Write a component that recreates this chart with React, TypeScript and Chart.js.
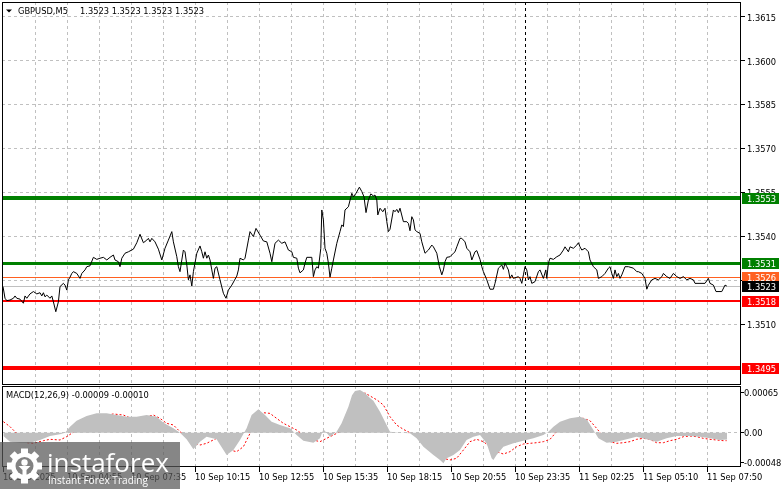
import React, { useEffect, useRef } from 'react';
import { Chart, registerables } from 'chart.js';
Chart.register(...registerables);

// ---------------- data ----------------
const symbolText = 'GBPUSD,M5';
const ohlcText = '1.3523 1.3523 1.3523 1.3523';
const macdTitle = 'MACD(12,26,9) -0.00009 -0.00010';

// x tick labels, one every 32 bars (M5 bars)
const xTickLabels = [
  '10 Sep 2025', '10 Sep 04:55', '10 Sep 07:35', '10 Sep 10:15', '10 Sep 12:55', '10 Sep 15:35',
  '10 Sep 18:15', '10 Sep 20:55', '10 Sep 23:35', '11 Sep 02:25', '11 Sep 05:10', '11 Sep 07:50',
];
const barsPerLabel = 32;
const barsPerGrid = 16;
const lastGridBar = 352;
const barRange = [-0.5, 369];
const daySeparatorBar = 261;

const priceTicks = [1.351, 1.3525, 1.354, 1.3555, 1.357, 1.3585, 1.36, 1.3615];
const priceRange = [1.348914, 1.362013];
const macdTicks = [-0.00048, 0, 0.00065];
const macdRange = [-0.000558, 0.000759];

// horizontal levels
const levelValues = [1.3553, 1.3531, 1.3526, 1.3518, 1.3495];
const currentPrice = 1.3523;

// close prices: [bar index, price]
const priceSeries: [number, number][] = [
  [0,1.35228],[1,1.35188],[1.9,1.3518],[3.5,1.35182],[5.2,1.35188],[6,1.35196],[6.9,1.35188],[8.5,1.35185],[10.2,1.35171],[11,1.35196],
  [11.9,1.35188],[13.5,1.35203],[15.2,1.35211],[16.9,1.35203],[18.5,1.35207],[19.4,1.35196],[20.2,1.35207],[21,1.35193],[21.9,1.35199],[23.5,1.35188],
  [24.4,1.35196],[25.2,1.35176],[26.4,1.35142],[27.7,1.35176],[28.5,1.35228],[30.2,1.35239],[31,1.35233],[31.9,1.35216],[32.7,1.35251],[33.5,1.3526],
  [34.4,1.35273],[35.2,1.35279],[36.9,1.35273],[38.5,1.35256],[39.4,1.35273],[41,1.35285],[41.9,1.35296],[43.5,1.35299],[45.2,1.35328],[46.9,1.35321],
  [48.5,1.35325],[50.2,1.35328],[51.9,1.35319],[53.5,1.35328],[55.2,1.35336],[56,1.35319],[57.7,1.35313],[58.5,1.35296],[59.4,1.35325],[61,1.35342],
  [62.7,1.35347],[65.2,1.35356],[66.9,1.35378],[68.5,1.35407],[70.2,1.35378],[71.9,1.35387],[72.7,1.35393],[73.5,1.35381],[74.4,1.35393],[76,1.35381],
  [77.7,1.35356],[79.4,1.35319],[81,1.35359],[82.7,1.35387],[84.4,1.35416],[85.2,1.35381],[86.9,1.3533],[87.7,1.35296],[88.5,1.35279],[89.4,1.35319],
  [90.2,1.35353],[91,1.35347],[91.9,1.35302],[92.7,1.35251],[93.5,1.35268],[94.4,1.3523],[95.2,1.35279],[96.9,1.35342],[98.5,1.35367],[99.4,1.35347],
  [100.2,1.35325],[101,1.35347],[101.9,1.35325],[102.7,1.35336],[103.5,1.35319],[104.4,1.35285],[105.2,1.35256],[106,1.35291],[106.9,1.35296],[108.5,1.35251],
  [110.2,1.35205],[111.5,1.35188],[112.7,1.35216],[114.4,1.35233],[116.9,1.35264],[117.7,1.35285],[118.5,1.35325],[120.2,1.35319],[121,1.35325],[122.7,1.35387],
  [123.5,1.35416],[125.2,1.35399],[126.5,1.35427],[128.5,1.35404],[130.2,1.35384],[131.9,1.35381],[133.5,1.35342],[134.4,1.35313],[136,1.35376],[137.7,1.35387],
  [139.4,1.35376],[141,1.35381],[142.7,1.35353],[144.4,1.35347],[145.2,1.35328],[146.9,1.35325],[147.7,1.35291],[148.5,1.35275],[150.2,1.35285],[151,1.35308],
  [151.9,1.35328],[154.4,1.35328],[155.2,1.35262],[156,1.35285],[156.9,1.35296],[157.7,1.35291],[158.9,1.35359],[159.4,1.3549],[160.2,1.35456],[161,1.35359],
  [161.9,1.35342],[162.7,1.35308],[163.5,1.3526],[164.4,1.35291],[165.2,1.35319],[166.9,1.35376],[168.5,1.35416],[169.4,1.35439],[170.2,1.35433],[171,1.3549],
  [172.7,1.35501],[174.4,1.35547],[175.2,1.35535],[176.5,1.35547],[178.2,1.35568],[179.4,1.35553],[180.5,1.35535],[181.5,1.35481],[182.7,1.35524],[183.9,1.35545],
  [185.2,1.35538],[186,1.35541],[186.9,1.35524],[187.4,1.35473],[188.5,1.35496],[189.9,1.35484],[191,1.35496],[191.9,1.3545],[192.7,1.35416],[193.5,1.35424],
  [195.2,1.3549],[196,1.35484],[196.9,1.35492],[197.7,1.35481],[198.5,1.35496],[200.2,1.3545],[201.9,1.3545],[202.7,1.35444],[203.5,1.35419],[204.4,1.35467],
  [205.2,1.35456],[206,1.35422],[206.9,1.35416],[208.5,1.3541],[209.4,1.35381],[211,1.35342],[212.7,1.35353],[214.4,1.3537],[215.2,1.35364],[216.9,1.35342],
  [218.2,1.35296],[219.4,1.35268],[220.2,1.35285],[221,1.35313],[221.9,1.35328],[223.5,1.3533],[225.2,1.35342],[226,1.35347],[226.9,1.35364],[228.5,1.35393],
  [229.4,1.35393],[231,1.35381],[231.9,1.35359],[233.5,1.35347],[234.4,1.35319],[236,1.35347],[236.9,1.35351],[238.5,1.35321],[239.4,1.35296],[240.2,1.35279],
  [241.9,1.35251],[243.5,1.35219],[245.2,1.35219],[246,1.35239],[247.7,1.35291],[249.4,1.35302],[250.2,1.35287],[251,1.35308],[251.9,1.35296],[252.7,1.35285],
  [253.5,1.35256],[254.4,1.35268],[255.2,1.35256],[257.7,1.35262],[258.5,1.35256],[259.4,1.35239],[260.2,1.35268],[261,1.35296],[261.9,1.35285],[262.7,1.35251],
  [263.5,1.35262],[264.4,1.35239],[266,1.35245],[267.7,1.35279],[268.5,1.35285],[270.2,1.35256],[271.4,1.35285],[271.9,1.35256],[272.7,1.35308],[273.5,1.35325],
  [275.2,1.35321],[276.9,1.3533],[278.5,1.35336],[280.2,1.35353],[281,1.35364],[282.7,1.35347],[283.5,1.35364],[285.2,1.35359],[286.9,1.3537],[287.7,1.35378],
  [288.5,1.35364],[289.4,1.35353],[291,1.35359],[292.7,1.35347],[293.5,1.35319],[295.2,1.35296],[296.9,1.35285],[297.7,1.35256],[299.4,1.35262],[301,1.35273],
  [302.7,1.35291],[303.5,1.35296],[304.4,1.35273],[305.2,1.35256],[306,1.35285],[306.9,1.35262],[307.7,1.35273],[308.5,1.35256],[309.4,1.35268],[311,1.35296],
  [312.7,1.35296],[315.2,1.35291],[316.9,1.35279],[317.7,1.35279],[319.4,1.35273],[321,1.35256],[321.9,1.35219],[322.7,1.35233],[324.4,1.35251],[326,1.35256],
  [327.7,1.35251],[329.4,1.35262],[330.2,1.35273],[331.9,1.35262],[333.5,1.35256],[335.2,1.35273],[336.9,1.35262],[338.5,1.35256],[340.2,1.35262],[341.9,1.35251],
  [343.5,1.35256],[345.2,1.35251],[346,1.35239],[348.5,1.35239],[351,1.35239],[352.7,1.35256],[353.5,1.35239],[355.2,1.35233],[356.5,1.35211],[358.5,1.35211],
  [359.4,1.35211],[361,1.35233],[361.9,1.3523],
];

// MACD main (histogram): [bar index, value]
const macdHist: [number, number][] = [
  [0.2,-0.000054],[3.5,-0.000146],[8.5,-0.000163],[13.5,-0.000163],[18.5,-0.000119],[23.5,-0.000054],[28.5,-0.000027],[31,0],[33.5,0.000098],[36.8,0.000195],
  [41.8,0.000271],[46.8,0.000314],[51.8,0.000314],[56.8,0.000287],[61.8,0.00026],[66.8,0.00026],[71.8,0.000287],[76.8,0.00026],[80.2,0.000163],[85.2,0.000071],
  [88.5,0],[91.8,-0.000108],[95.2,-0.000271],[98.5,-0.000146],[101.8,-0.000065],[106.8,-0.000108],[111.8,-0.000363],[115.2,-0.000282],[118.5,-0.000119],[121.8,0.000071],
  [124.3,0.000287],[127.7,0.000379],[131,0.000287],[134.3,0.000179],[138.5,0.000125],[143.5,0.000071],[146.8,-0.000038],[150.2,-0.00013],[155.2,-0.000163],[158.5,-0.000092],
  [160.2,0.000054],[163.5,-0.000065],[166.8,0.000016],[169.3,0.000152],[172.7,0.00042],[174.5,0.00061],[176,0.000678],[178.5,0.000694],[181,0.000646],[183.5,0.000564],
  [185.2,0.00052],[188.5,0.000341],[191.8,0.000125],[193.5,0.000016],[198.5,0],[203.5,-0.000011],[206.8,-0.000092],[210.2,-0.000228],[215.2,-0.000363],[218.5,-0.000444],
  [220.2,-0.000499],[221.8,-0.000417],[225.2,-0.000363],[228.5,-0.000282],[231.8,-0.000119],[235.2,-0.000065],[238.5,-0.000038],[241.8,-0.000173],[244.3,-0.000417],[245.2,-0.000444],
  [246.8,-0.000363],[250.2,-0.000228],[255.2,-0.000173],[260.2,-0.00013],[265.2,-0.000092],[270.2,-0.000038],[272.7,0.000016],[275.2,0.000098],[278.5,0.000179],[283.5,0.000233],
  [288.5,0.00026],[291.8,0.000217],[295.2,0.000043],[297.7,-0.000092],[301.8,-0.000163],[306.8,-0.000146],[311.8,-0.000108],[316.8,-0.000065],[321.8,-0.000108],[326.8,-0.000146],
  [331.8,-0.000092],[336.8,-0.000054],[343.5,-0.000054],[348.5,-0.000065],[353.5,-0.000092],[358.5,-0.00012],[362,-0.00011],
];

// MACD signal: [bar index, value]
const macdSignal: [number, number][] = [
  [0.2,0.000179],[3.5,0.000098],[8.5,-0.000065],[11.8,-0.000163],[15.2,-0.000173],[20.2,-0.00013],[23.5,-0.000108],[28.5,-0.000119],[31.8,-0.000065],[36.8,0.000043],
  [41.8,0.000179],[48.5,0.000271],[55.2,0.000304],[60.2,0.000287],[65.2,0.000217],[68.5,0.000206],[71.8,0.00026],[75.2,0.000287],[78.5,0.000233],[81.8,0.000152],
  [85.2,0.000125],[88.5,0.000016],[91.8,-0.000065],[95.2,-0.000163],[98.5,-0.000201],[101.8,-0.000173],[106.8,-0.000092],[110.2,-0.000146],[113.5,-0.000282],[116.8,-0.000309],
  [120.2,-0.000228],[123.5,-0.000011],[126.8,0.000206],[130.2,0.000325],[133.5,0.000314],[136.8,0.000233],[140.2,0.000152],[143.5,0.000098],[146.8,0.000043],[150.2,-0.000038],
  [155.2,-0.000119],[158.5,-0.000146],[161.8,-0.000092],[165.2,-0.000038],[168.5,0.000016],[171.8,0.000206],[175,0.000418],[177,0.000532],[178.5,0.000597],[181,0.000646],
  [183.5,0.000597],[187,0.000532],[190.2,0.00045],[193.5,0.00026],[196.8,0.000125],[200.2,0.000054],[203.5,0],[206.8,-0.000054],[210.2,-0.000146],[213.5,-0.000255],
  [216.8,-0.000363],[220.2,-0.000417],[223.5,-0.000444],[226.8,-0.000417],[230.2,-0.000282],[233.5,-0.000146],[236.8,-0.000108],[240.2,-0.000146],[243.5,-0.000228],[246.8,-0.000309],
  [250.2,-0.000347],[253.5,-0.000309],[256.8,-0.000228],[260.2,-0.000184],[263.5,-0.000173],[266.8,-0.000163],[270.2,-0.000146],[273.5,-0.000108],[276.8,0.000016],[280.2,0.000125],
  [283.5,0.000195],[286.8,0.000233],[290.2,0.000233],[293.5,0.000195],[296.8,0.000071],[300.2,-0.000065],[303.5,-0.000146],[306.8,-0.000173],[310.2,-0.000163],[313.5,-0.000146],
  [316.8,-0.000108],[320.2,-0.000092],[323.5,-0.000108],[326.8,-0.000163],[330.2,-0.000163],[333.5,-0.00013],[336.8,-0.000108],[340.2,-0.000065],[343.5,-0.000054],[346.8,-0.000065],
  [350.2,-0.000092],[353.5,-0.000108],[356.8,-0.000119],[360.2,-0.00013],[361.8,-0.00013],
];

// ---------------- styles ----------------
const FONT = '"DejaVu Sans", sans-serif';
const FSIZE = 8.3;
const GRID = '#c0c0c0';
const levelColors = ['#008000', '#008000', '#ff6020', '#ff0000', '#ff0000'];
const levelWidths = [4, 3, 1, 2, 4];
const currentColor = '#c0c0c0';

Chart.defaults.font.family = FONT;
Chart.defaults.font.size = FSIZE;
Chart.defaults.color = '#000';

const gridBars: number[] = [];
for (let b = barsPerGrid; b <= lastGridBar; b += barsPerGrid) gridBars.push(b);
const axisBars: number[] = [];
for (let b = 0; b <= lastGridBar; b += barsPerGrid) axisBars.push(b);

function noPad(s: any) {
  s.paddingTop = 0;
  s.paddingBottom = 0;
  s.paddingLeft = 0;
  s.paddingRight = 0;
}

function drawFrame(ctx: CanvasRenderingContext2D, a: any) {
  ctx.save();
  ctx.strokeStyle = '#000';
  ctx.lineWidth = 1;
  ctx.setLineDash([]);
  ctx.strokeRect(a.left + 0.5, a.top + 0.5, a.right - a.left - 1, a.bottom - a.top - 1);
  ctx.restore();
}

function drawSeparator(chart: any) {
  const { ctx, chartArea: a, scales } = chart;
  const sx = Math.round(scales.x.getPixelForValue(daySeparatorBar)) + 0.5;
  ctx.save();
  ctx.strokeStyle = '#000';
  ctx.lineWidth = 1;
  ctx.setLineDash([3, 3]);
  ctx.beginPath();
  ctx.moveTo(sx, a.top);
  ctx.lineTo(sx, a.bottom);
  ctx.stroke();
  ctx.restore();
}

function labelBox(ctx: CanvasRenderingContext2D, y: number, bg: string, text: string, x0: number) {
  ctx.fillStyle = bg;
  ctx.fillRect(x0, Math.round(y) - 5, 37, 11);
  ctx.fillStyle = '#fff';
  ctx.font = `${FSIZE}px ${FONT}`;
  ctx.textBaseline = 'middle';
  ctx.textAlign = 'left';
  ctx.fillText(text, x0 + 5, Math.round(y) + 1.5);
}

const mainPlugin = {
  id: 'mainDecor',
  beforeDatasetsDraw(chart: any) {
    const { ctx, chartArea: a, scales } = chart;
    drawSeparator(chart);
    ctx.save();
    const drawH = (v: number, color: string, w: number) => {
      const py = scales.y.getPixelForValue(v);
      const yy = w % 2 ? Math.round(py) + 0.5 : Math.round(py);
      ctx.strokeStyle = color;
      ctx.lineWidth = w;
      ctx.beginPath();
      ctx.moveTo(a.left, yy);
      ctx.lineTo(a.right, yy);
      ctx.stroke();
    };
    drawH(currentPrice, currentColor, 1);
    levelValues.forEach((v, k) => drawH(v, levelColors[k], levelWidths[k]));
    ctx.restore();
  },
  afterDraw(chart: any) {
    const { ctx, chartArea: a, scales } = chart;
    drawFrame(ctx, a);
    ctx.save();
    levelValues.forEach((v, k) => labelBox(ctx, scales.y.getPixelForValue(v), levelColors[k], v.toFixed(4), a.right + 1));
    labelBox(ctx, scales.y.getPixelForValue(currentPrice), '#000', currentPrice.toFixed(4), a.right + 1);
    // title
    ctx.fillStyle = '#000';
    ctx.beginPath();
    ctx.moveTo(6, 9.5);
    ctx.lineTo(12, 9.5);
    ctx.lineTo(9, 12.5);
    ctx.closePath();
    ctx.fill();
    ctx.font = `${FSIZE}px ${FONT}`;
    ctx.textBaseline = 'alphabetic';
    ctx.textAlign = 'left';
    ctx.fillText(symbolText, 18, 13.5);
    ctx.fillText(ohlcText, 80, 13.5);
    ctx.restore();
  },
};

const macdPlugin = {
  id: 'macdDecor',
  beforeDatasetsDraw(chart: any) {
    drawSeparator(chart);
  },
  afterDraw(chart: any) {
    const { ctx, chartArea: a, scales } = chart;
    drawFrame(ctx, a);
    ctx.save();
    // x tick marks at labelled positions
    ctx.strokeStyle = '#000';
    ctx.lineWidth = 1;
    xTickLabels.forEach((_, k) => {
      const px = Math.round(scales.x.getPixelForValue(k * barsPerLabel)) + 0.5;
      ctx.beginPath();
      ctx.moveTo(px, a.bottom);
      ctx.lineTo(px, a.bottom + 5);
      ctx.stroke();
    });
    ctx.fillStyle = '#000';
    ctx.font = `${FSIZE}px ${FONT}`;
    ctx.textBaseline = 'alphabetic';
    ctx.textAlign = 'left';
    ctx.fillText(macdTitle, 6, 11.5);

    // watermark
    const top = 56;
    ctx.fillStyle = 'rgba(88,88,88,0.72)';
    ctx.fillRect(0, top, 180, 47);
    ctx.fillStyle = '#fff';
    const cx = 24.5, cy = top + 24;
    ctx.save();
    ctx.translate(cx, cy);
    for (let k = 0; k < 8; k++) {
      ctx.save();
      ctx.rotate((k * Math.PI) / 4);
      ctx.fillRect(-3.5, -17.5, 7, 6);
      ctx.restore();
    }
    ctx.beginPath();
    ctx.arc(0, 0, 13.5, 0, Math.PI * 2);
    ctx.fill();
    ctx.fillStyle = 'rgb(130,130,130)';
    ctx.beginPath();
    ctx.arc(0, 0, 9, 0, Math.PI * 2);
    ctx.fill();
    ctx.fillStyle = '#fff';
    ctx.beginPath();
    ctx.arc(0, -3.5, 3.2, 0, Math.PI * 2);
    ctx.fill();
    ctx.beginPath();
    ctx.moveTo(-6, 0);
    ctx.lineTo(6, 0);
    ctx.lineTo(2, 4);
    ctx.lineTo(2, 13);
    ctx.lineTo(-2, 13);
    ctx.lineTo(-2, 4);
    ctx.closePath();
    ctx.fill();
    ctx.restore();
    ctx.fillStyle = '#fff';
    ctx.font = '26px "Open Sans", sans-serif';
    ctx.fillText('instaforex', 47, top + 29.5, 126);
    ctx.font = '10.5px "Open Sans", sans-serif';
    ctx.fillText('Instant Forex Trading', 48, top + 42, 100);
    ctx.restore();
  },
};

export default function App() {
  const mainRef = useRef<HTMLCanvasElement>(null);
  const macdRef = useRef<HTMLCanvasElement>(null);

  useEffect(() => {
    document.body.style.margin = '0';
    const xBase = {
      type: 'linear' as const,
      min: barRange[0],
      max: barRange[1],
      border: { display: false, dash: [3, 3] },
    };

    const main = new Chart(mainRef.current!, {
      type: 'line',
      data: {
        datasets: [
          {
            data: priceSeries.map(([x, y]) => ({ x, y })),
            borderColor: '#000',
            borderWidth: 1,
            pointRadius: 0,
            tension: 0,
            fill: false,
          },
        ],
      },
      options: {
        animation: false,
        responsive: false,
        devicePixelRatio: 1,
        events: [],
        layout: { padding: { left: 2, top: 2, right: 0, bottom: 1 } },
        plugins: { legend: { display: false }, tooltip: { enabled: false } },
        scales: {
          x: {
            ...xBase,
            afterBuildTicks: (s: any) => {
              s.ticks = gridBars.map((v) => ({ value: v }));
            },
            ticks: { display: false },
            grid: { color: GRID, drawTicks: false },
            afterFit: (s: any) => {
              s.height = 0;
              noPad(s);
            },
          },
          y: {
            position: 'right',
            min: priceRange[0],
            max: priceRange[1],
            afterBuildTicks: (s: any) => {
              s.ticks = priceTicks.map((v) => ({ value: v }));
            },
            ticks: {
              callback: (v: any) => Number(v).toFixed(4),
              color: '#000',
              font: { family: FONT, size: FSIZE },
              padding: 2,
              labelOffset: 1.5,
              autoSkip: false,
            },
            grid: { color: GRID, tickColor: '#000', tickLength: 4, tickBorderDash: [] },
            border: { display: false, dash: [3, 3] },
            afterFit: (s: any) => {
              s.width = 40;
              noPad(s);
            },
          },
        },
      } as any,
      plugins: [mainPlugin],
    });

    const macd = new Chart(macdRef.current!, {
      type: 'line',
      data: {
        datasets: [
          {
            data: macdHist.map(([x, y]) => ({ x, y })),
            borderWidth: 0,
            borderColor: 'rgba(0,0,0,0)',
            backgroundColor: '#c0c0c0',
            pointRadius: 0,
            tension: 0,
            fill: 'origin',
          },
          {
            data: macdSignal.map(([x, y]) => ({ x, y })),
            borderColor: '#ff0000',
            borderWidth: 1,
            borderDash: [2, 2],
            pointRadius: 0,
            tension: 0,
            fill: false,
          },
        ],
      },
      options: {
        animation: false,
        responsive: false,
        devicePixelRatio: 1,
        events: [],
        layout: { padding: { left: 2, top: 0, right: 0, bottom: 0 } },
        plugins: { legend: { display: false }, tooltip: { enabled: false } },
        scales: {
          x: {
            ...xBase,
            afterBuildTicks: (s: any) => {
              s.ticks = axisBars.map((v) => ({ value: v }));
            },
            ticks: {
              callback: (v: any) => (v % barsPerLabel === 0 ? xTickLabels[v / barsPerLabel] : ''),
              align: 'start',
              autoSkip: false,
              maxRotation: 0,
              minRotation: 0,
              padding: 6,
              color: '#000',
              font: { family: FONT, size: FSIZE },
            },
            grid: {
              color: (c: any) => (c.tick && c.tick.value === 0 ? 'rgba(0,0,0,0)' : GRID),
              drawTicks: false,
            },
            afterFit: (s: any) => {
              s.height = 22;
              noPad(s);
            },
          },
          y: {
            position: 'right',
            min: macdRange[0],
            max: macdRange[1],
            afterBuildTicks: (s: any) => {
              s.ticks = macdTicks.map((v) => ({ value: v }));
            },
            ticks: {
              callback: (v: any) => (Number(v) === 0 ? '0.00' : Number(v).toFixed(5)),
              color: '#000',
              font: { family: FONT, size: FSIZE },
              padding: 0,
              labelOffset: 1.5,
              autoSkip: false,
            },
            grid: {
              color: (c: any) => (c.tick && c.tick.value === 0 ? GRID : 'rgba(0,0,0,0)'),
              tickColor: '#000',
              tickLength: 3,
              tickBorderDash: [],
            },
            border: { display: false, dash: [3, 3] },
            afterFit: (s: any) => {
              s.width = 40;
              noPad(s);
            },
          },
        },
      } as any,
      plugins: [macdPlugin],
    });

    return () => {
      main.destroy();
      macd.destroy();
    };
  }, []);

  return (
    <div style={{ position: 'relative', width: 781, height: 489, background: '#fff', overflow: 'hidden' }}>
      <canvas
        ref={mainRef}
        width={781}
        height={386}
        style={{ position: 'absolute', left: 0, top: 0, width: 781, height: 386 }}
      />
      <canvas
        ref={macdRef}
        width={781}
        height={103}
        style={{ position: 'absolute', left: 0, top: 386, width: 781, height: 103 }}
      />
    </div>
  );
}
